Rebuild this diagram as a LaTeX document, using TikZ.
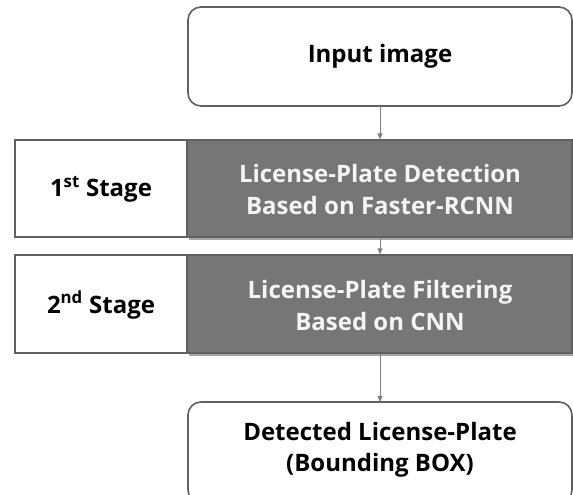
\documentclass[tikz,border=0pt]{standalone}
\usepackage{fontspec}
\setmainfont{Open Sans}
\usetikzlibrary{arrows.meta,shadows}
\definecolor{boxline}{RGB}{96,96,96}
\definecolor{grayfill}{RGB}{118,118,118}
\definecolor{arrowcol}{RGB}{128,128,128}
\definecolor{lighttext}{RGB}{245,245,245}
\begin{document}
\begin{tikzpicture}[x=1pt,y=-1pt,
  roundbox/.style={draw=boxline,line width=1.6pt,rounded corners=13pt,fill=white},
  stagebox/.style={draw=boxline,line width=1.6pt,fill=white},
  procbox/.style={draw=boxline,line width=1.2pt,fill=grayfill,
     drop shadow={shadow xshift=2pt,shadow yshift=-3pt,opacity=0.35,fill=black}},
  darktext/.style={font=\fontsize{24}{31}\selectfont\bfseries,text=black,align=center},
  lighttxt/.style={font=\fontsize{24}{32}\selectfont\bfseries,text=lighttext,align=center},
  flow/.style={draw=arrowcol,line width=0.9pt,-{Triangle[length=6pt,width=5pt]}}]
\useasboundingbox (0,0) rectangle (573,495);
\clip (0,0) rectangle (573,495);
% input box
\draw[roundbox] (188,7) rectangle (572,106);
\node[darktext] (in) at (380,56) {Input image};
\coordinate (inB) at (380,106);
% stage 1
\draw[stagebox] (15,140) rectangle (187,237);
\node[darktext] (s1) at (101,189) {1\textsuperscript{st} Stage};
\node[procbox,minimum width=385pt,minimum height=97pt,inner sep=0pt] (p1) at (379.5,188.5) {};
\node[lighttxt] (p1t) at (380,189) {License-Plate Detection\\Based on Faster-RCNN};
% stage 2
\draw[stagebox] (15,255) rectangle (187,353);
\node[darktext] (s2) at (101,305) {2\textsuperscript{nd} Stage};
\node[procbox,minimum width=385pt,minimum height=98pt,inner sep=0pt] (p2) at (379.5,304) {};
\node[lighttxt] (p2t) at (380,305) {License-Plate Filtering\\Based on CNN};
% output box
\draw[roundbox] (188,402) rectangle (572,503);
\node[darktext] (out) at (380,450) {Detected License-Plate\\(Bounding BOX)};
\coordinate (outT) at (380,402);
% arrows
\draw[flow] (inB) -- (p1.north -| inB);
\draw[flow] (p1.south -| inB) -- (p2.north -| inB);
\draw[flow] (p2.south -| inB) -- (outT);
\end{tikzpicture}
\end{document}
